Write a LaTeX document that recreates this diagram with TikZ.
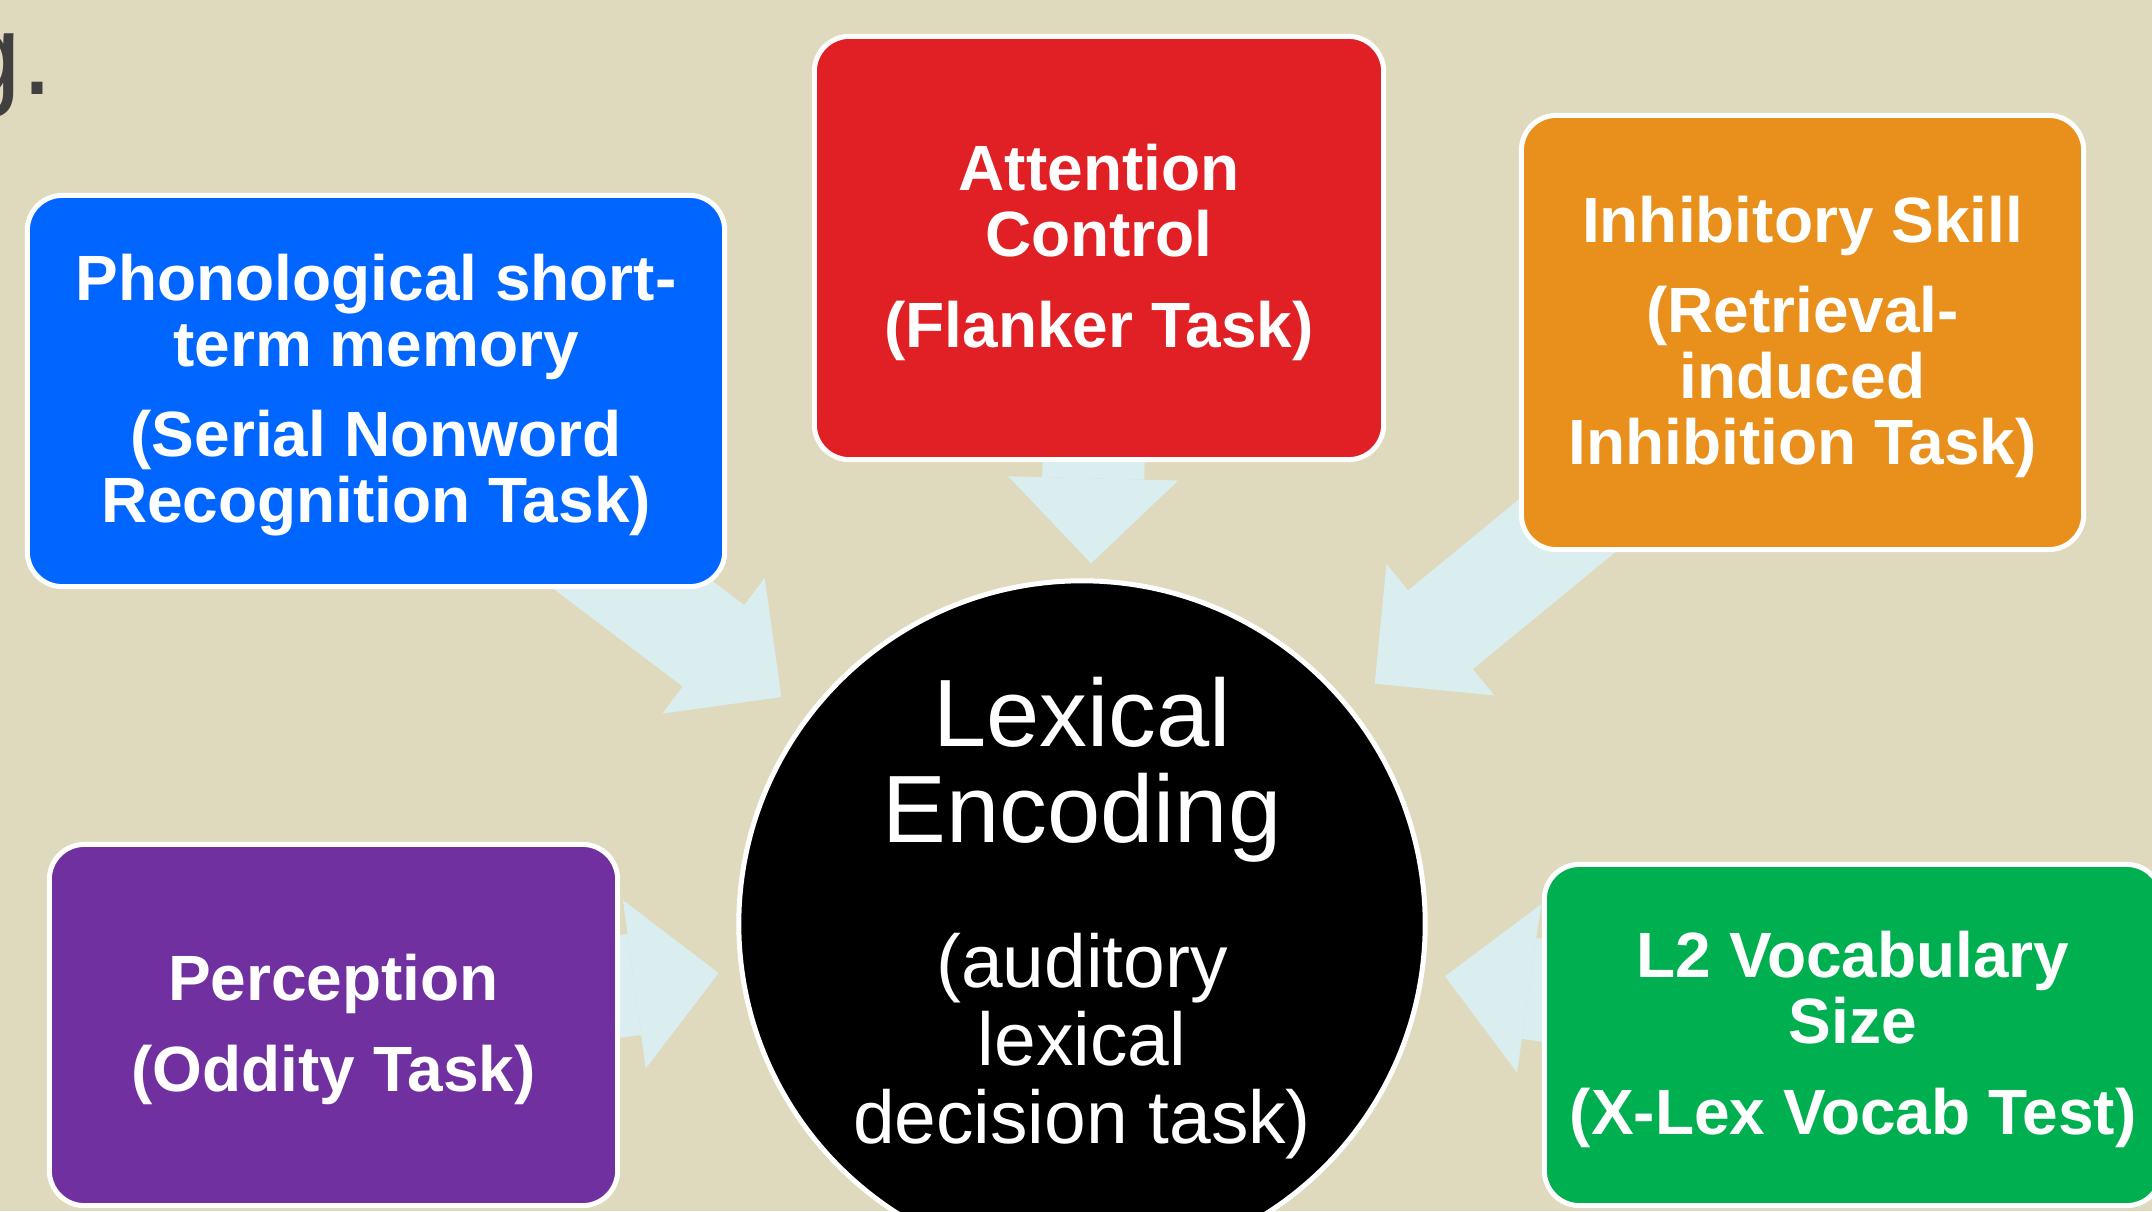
\documentclass[tikz,border=0pt]{standalone}
\usepackage{fontspec}
\setmainfont{Liberation Sans}
\usepackage{tikz}
\usetikzlibrary{calc,arrows.meta,positioning}
\definecolor{paper}{RGB}{223,217,190}
\definecolor{titlegrey}{RGB}{64,64,64}
\definecolor{arrowblue}{RGB}{218,237,239}
\definecolor{phonblue}{RGB}{0,102,255}
\definecolor{attnred}{RGB}{224,32,36}
\definecolor{inhibgold}{RGB}{232,143,28}
\definecolor{percpurple}{RGB}{112,48,160}
\definecolor{vocabgreen}{RGB}{0,176,80}
\newcommand{\boxfont}{\fontsize{18.2}{18.8}\selectfont\bfseries}
% a bit of extra room above the first line of a box
\newcommand{\topstrut}{\rule{0pt}{15.6pt}}
\pgfdeclarelayer{paperlayer}
\pgfdeclarelayer{feedlayer}
\pgfsetlayers{paperlayer,feedlayer,main}

\begin{document}
\begin{tikzpicture}[x=0.01cm, y=0.01cm,
    skill/.style={draw=white, line width=0.05cm, rounded corners=0.35cm, align=center,
      text=white, font=\boxfont, inner sep=0pt},
    feed/.style={draw=arrowblue, line width=1.02cm,
      -{Triangle[length=0.85cm, width=1.7cm, line width=0pt]}}]
  \useasboundingbox (0,0) rectangle (2152,1211);
  \begin{pgfonlayer}{paperlayer}
    \fill[paper] (0,0) rectangle (2152,1211);
  \end{pgfonlayer}
  % end of the slide title, cut off at the left
  \node[anchor=base west, inner sep=0pt, text=titlegrey,
    font=\fontsize{32.7}{36}\selectfont] (title) at (-43,1116) {g.};

  % centre circle
  \node[circle, fill=black, draw=white, line width=0.05cm, minimum size=6.86cm,
    inner sep=0pt] (lex) at (1082,287) {};
  \node[text=white, align=center, font=\fontsize{27.2}{27.3}\selectfont]
    (lexname) at (1082,441) {Lexical\\Encoding};
  \node[text=white, align=center, font=\fontsize{21.3}{22.2}\selectfont]
    (lextask) at (1082,165) {(auditory\\lexical\\decision task)};

  % the five measures round it
  \node[skill, fill=phonblue, minimum width=6.97cm, minimum height=3.91cm] (phon)
    at (376,820) {\topstrut Phonological short-\\term memory\\[6.8pt](Serial Nonword\\Recognition Task)};
  \node[skill, fill=attnred, minimum width=5.69cm, minimum height=4.23cm] (attn)
    at (1099,963) {\topstrut Attention\\Control\\[7pt](Flanker Task)};
  \node[skill, fill=inhibgold, minimum width=5.62cm, minimum height=4.34cm] (inhib)
    at (1802.5,878.5) {\topstrut Inhibitory Skill\\[6.8pt](Retrieval-\\induced\\Inhibition Task)};
  \node[skill, fill=percpurple, minimum width=5.68cm, minimum height=3.61cm] (perc)
    at (333.5,186) {\topstrut Perception\\[7pt](Oddity Task)};
  \node[skill, fill=vocabgreen, minimum width=6.17cm, minimum height=3.41cm] (vocab)
    at (1853,176) {\topstrut L2 Vocabulary\\Size\\[7pt](X-Lex Vocab Test)};

  % block arrows, kept under the boxes
  \begin{pgfonlayer}{feedlayer}
    \draw[feed, shorten >=0.31cm] (phon.center) -- (lex);
    \draw[feed, shorten >=0.15cm] (attn.center) -- (lex);
    \draw[feed, shorten >=0.33cm] (inhib.center) -- (lex);
    \draw[feed, shorten >=0.21cm] (perc.center) -- (lex);
    \draw[feed, shorten >=0.21cm] (vocab.center) -- (lex);
  \end{pgfonlayer}
\end{tikzpicture}
\end{document}
